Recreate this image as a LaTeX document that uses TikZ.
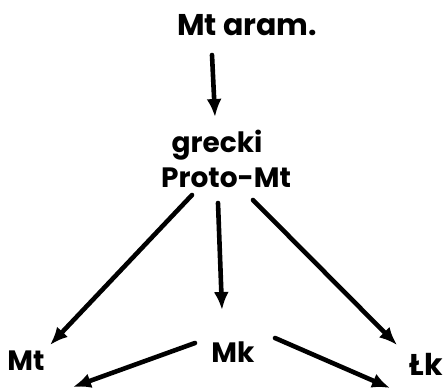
\documentclass[tikz,border=0pt]{standalone}
\usepackage{fontspec}
\setmainfont{Poppins}
\usetikzlibrary{arrows.meta}
\begin{document}
\begin{tikzpicture}[x=1pt,y=-1pt,
  lbl/.style={anchor=base,inner sep=0pt,font=\fontsize{28}{30}\selectfont\bfseries},
  arr/.style={line width=4.6pt,line cap=round,-{Latex[length=18pt,width=15pt]}}]
\useasboundingbox[fill=white] (0,0) rectangle (444,389);
\node[lbl,font=\fontsize{30}{32}\selectfont\bfseries] (aram) at (247,35) {Mt aram.};
\node[lbl] (grecki) at (217,152) {grecki};
\node[lbl] (proto) at (226,187) {Proto-Mt};
\node[lbl] (mt) at (26,370) {Mt};
\node[lbl] (mk) at (233,362) {Mk};
\node[lbl,font=\fontsize{30}{32}\selectfont\bfseries] (lk) at (426,375) {Łk};
\draw[arr] ([shift={(-35,20)}]aram.base) -- ([shift={(-2,-35)}]grecki.base);
\draw[arr] ([shift={(-8,16)}]proto.base) -- ([shift={(-11,-52)}]mk.base);
\draw[arr] ([shift={(-34,8)}]proto.base) -- ([shift={(24,-25)}]mt.base);
\draw[arr] ([shift={(27,13)}]proto.base) -- ([shift={(-29,-30)}]lk.base);
\draw[arr] ([shift={(-38,-19)}]mk.base) -- ([shift={(47,17)}]mt.base);
\draw[arr] ([shift={(42,-24)}]mk.base) -- ([shift={(-36,13)}]lk.base);
\end{tikzpicture}
\end{document}
